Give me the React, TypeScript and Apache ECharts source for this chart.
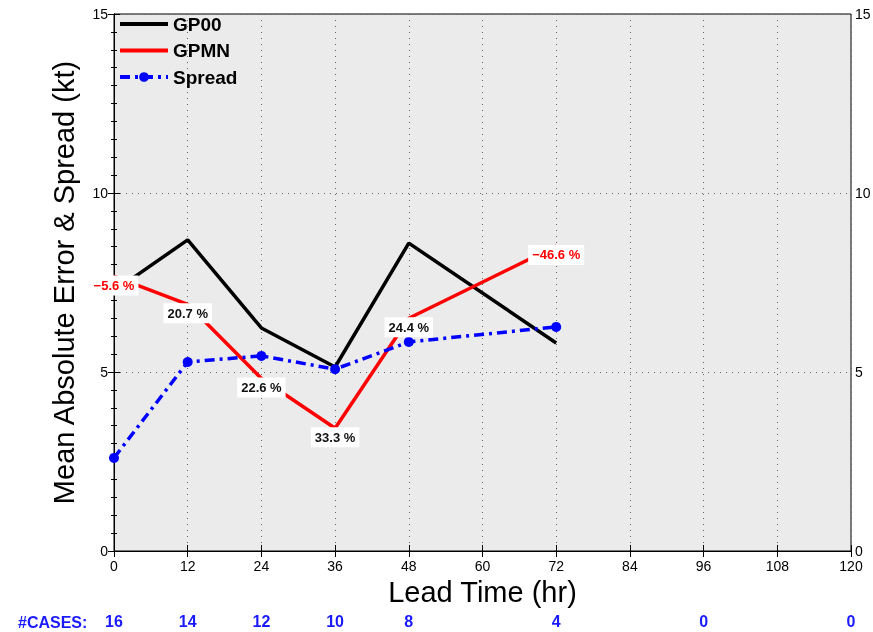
import React, { useEffect, useRef } from "react";
import * as echarts from "echarts";

const hours = [0, 12, 24, 36, 48, 72];
const gp00 = [7.26, 8.69, 6.23, 5.14, 8.6, 5.81];
const gpmn = [7.67, 6.89, 4.82, 3.43, 6.5, 8.52];
const spread = [2.6, 5.28, 5.45, 5.08, 5.84, 6.26];
const pctImprove = [-5.6, 20.7, 22.6, 33.3, 24.4, -46.6];
const caseHours = [0, 12, 24, 36, 48, 72, 96, 120];
const caseCounts = [16, 14, 12, 10, 8, 4, 0, 0];

const FONT = "'Liberation Sans', Arial, Helvetica, sans-serif";

export default function App() {
  const ref = useRef<HTMLDivElement>(null);
  useEffect(() => {
    if (!ref.current) return;
    const chart = echarts.init(ref.current, null, { renderer: "svg" });
    const xBase = { type: "value", min: 0, max: 120, interval: 12 };
    const yBase = { type: "value", min: 0, max: 15, interval: 5 };
    const grid = { color: "#666", type: [1, 5], width: 1 };
    const option: any = {
      animation: false,
      textStyle: { fontFamily: FONT },
      grid: {
        left: 114, right: 22, top: 14, bottom: 81,
        show: true, backgroundColor: "#ebebeb", borderColor: "#000", borderWidth: 1,
        containLabel: false, outerBoundsMode: "none",
      },
      legend: {
        data: [
          { name: "GP00", itemStyle: { opacity: 0 } },
          { name: "GPMN", itemStyle: { opacity: 0 } },
          { name: "Spread" },
        ],
        orient: "vertical", left: 118, top: 14, padding: 0,
        itemWidth: 48, itemHeight: 12, itemGap: 6.5, selectedMode: false,
        lineStyle: { width: 4 },
        textStyle: { fontSize: 19, fontWeight: "bold", color: "#000", fontFamily: FONT, lineHeight: 20 },
      },
      xAxis: [
        {
          ...xBase, position: "bottom",
          axisLine: { show: true, lineStyle: { color: "#000", width: 1 } },
          axisTick: { show: true, inside: true, length: 6, lineStyle: { color: "#000" } },
          axisLabel: { color: "#000", fontSize: 14, fontFamily: FONT, margin: 8 },
          splitLine: { show: true, lineStyle: grid },
          name: "Lead Time (hr)", nameLocation: "middle", nameGap: 24,
          nameTextStyle: { fontSize: 29, color: "#000", fontFamily: FONT },
        },
        {
          ...xBase, position: "top",
          axisLine: { show: true, lineStyle: { color: "#000", width: 1 } },
          axisTick: { show: true, inside: true, length: 6, lineStyle: { color: "#000" } },
          axisLabel: { show: false }, splitLine: { show: false },
        },
        {
          ...xBase, position: "bottom", offset: 54,
          axisLine: { show: false }, axisTick: { show: false }, splitLine: { show: false },
          axisLabel: {
            color: "#1a1aff", fontSize: 16, fontWeight: "bold", fontFamily: FONT, margin: 8,
            formatter: (v: number) => {
              const i = caseHours.indexOf(v);
              return i >= 0 ? String(caseCounts[i]) : "";
            },
          },
        },
      ],
      yAxis: [
        {
          ...yBase, position: "left",
          axisLine: { show: true, lineStyle: { color: "#000", width: 1 } },
          axisTick: { show: true, inside: true, length: 6, lineStyle: { color: "#000" } },
          minorTick: { show: true, splitNumber: 10, length: 3, lineStyle: { color: "#000" } },
          axisLabel: { color: "#000", fontSize: 14, fontFamily: FONT, margin: 6 },
          splitLine: { show: true, lineStyle: grid },
          name: "Mean Absolute Error & Spread (kt)", nameLocation: "middle", nameGap: 36,
          nameTextStyle: { fontSize: 29, color: "#000", fontFamily: FONT },
        },
        {
          ...yBase, position: "right",
          axisLine: { show: true, lineStyle: { color: "#000", width: 1 } },
          axisTick: { show: true, inside: true, length: 6, lineStyle: { color: "#000" } },
          minorTick: { show: true, splitNumber: 10, length: 3, lineStyle: { color: "#000" } },
          axisLabel: { color: "#000", fontSize: 14, fontFamily: FONT, margin: 4 },
          splitLine: { show: false },
        },
      ],
      series: [
        {
          name: "GP00", type: "line", xAxisIndex: 0, yAxisIndex: 0,
          data: hours.map((h, i) => [h, gp00[i]]),
          symbol: "none", lineStyle: { color: "#000", width: 3.5 }, itemStyle: { color: "#000" },
        },
        {
          name: "GPMN", type: "line", xAxisIndex: 0, yAxisIndex: 0,
          data: hours.map((h, i) => [h, gpmn[i]]),
          symbol: "none", lineStyle: { color: "#ff0000", width: 3.5 }, itemStyle: { color: "#ff0000" },
        },
        {
          name: "Spread", type: "line", xAxisIndex: 0, yAxisIndex: 0,
          data: hours.map((h, i) => [h, spread[i]]),
          symbol: "circle", symbolSize: 10,
          lineStyle: { color: "#0000ff", width: 3.5, type: [10, 5, 3, 5] },
          itemStyle: { color: "#0000ff" },
        },
        {
          name: "pct", type: "scatter", xAxisIndex: 0, yAxisIndex: 0, z: 10, silent: true,
          symbolSize: 1, itemStyle: { color: "rgba(0,0,0,0)" },
          data: hours.map((h, i) => ({
            value: [h, gpmn[i]],
            label: { color: pctImprove[i] < 0 ? "#ff0000" : "#111" },
          })),
          label: {
            show: true, position: "inside", offset: [0, 9], opacity: 1,
            formatter: (p: any) => {
              const v = pctImprove[p.dataIndex];
              return (v < 0 ? "\u2212" + Math.abs(v).toFixed(1) : v.toFixed(1)) + " %";
            },
            backgroundColor: "#fff", padding: [4, 4, 3, 4],
            fontSize: 13, fontWeight: "bold", fontFamily: FONT,
          },
        },
      ],
      graphic: [
        {
          type: "text", x: 18, y: 622,
          style: { text: "#CASES:", fill: "#1a1aff", font: `bold 16px ${FONT}`, verticalAlign: "middle" },
        },
      ],
    };
    chart.setOption(option);
    return () => chart.dispose();
  }, []);
  return <div ref={ref} style={{ position: "fixed", left: 0, top: 0, width: 873, height: 632 }} />;
}
